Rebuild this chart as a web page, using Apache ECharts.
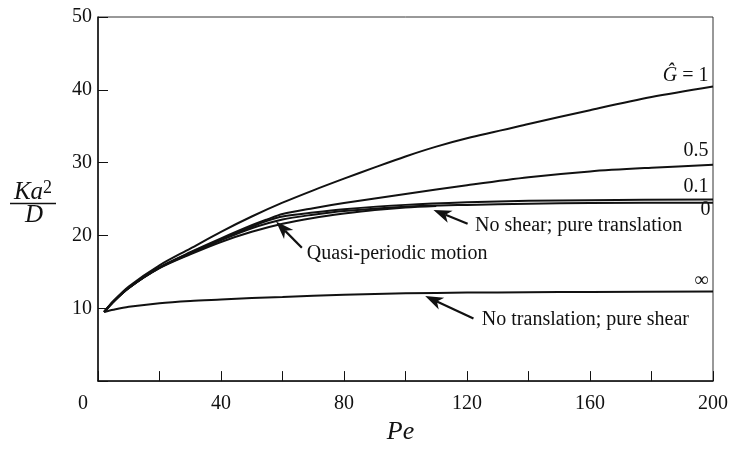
<!DOCTYPE html>
<html>
<head>
<meta charset="utf-8">
<script src="https://cdn.jsdelivr.net/npm/echarts@6/dist/echarts.min.js"></script>
<style>
  html, body { margin: 0; padding: 0; background: #fff; }
  #chart { width: 733px; height: 450px; }
</style>
</head>
<body>
<div id="chart"></div>
<script>
// Ka^2/D against Pe, one curve per shear ratio G
const curveG1 = [[2, 9.5], [5, 11.0], [10, 13.0], [20, 15.9], [30, 18.2], [40, 20.5], [50, 22.6], [60, 24.5], [70, 26.2], [80, 27.8], [90, 29.35], [100, 30.85], [110, 32.2], [120, 33.35], [140, 35.3], [160, 37.2], [180, 39.0], [200, 40.45]];
const curveG05 = [[2, 9.5], [5, 10.9], [10, 12.8], [20, 15.6], [30, 17.7], [40, 19.6], [50, 21.4], [55, 22.2], [60, 22.95], [70, 23.75], [80, 24.45], [100, 25.7], [120, 26.9], [140, 28.0], [160, 28.8], [180, 29.3], [200, 29.7]];
const curveG01 = [[2, 9.5], [5, 10.9], [10, 12.8], [20, 15.6], [30, 17.6], [40, 19.45], [50, 21.2], [55, 22.0], [60, 22.6], [70, 23.15], [80, 23.6], [100, 24.2], [120, 24.55], [140, 24.75], [160, 24.85], [200, 24.95]];
const curveG0 = [[2, 9.5], [5, 10.9], [10, 12.8], [20, 15.55], [30, 17.5], [40, 19.35], [50, 21.0], [60, 22.2], [70, 22.85], [80, 23.35], [100, 23.95], [120, 24.2], [140, 24.35], [160, 24.45], [200, 24.5]];
const curveQuasi = [[2, 9.5], [5, 10.9], [10, 12.8], [20, 15.5], [30, 17.4], [40, 19.1], [50, 20.5], [60, 21.6], [70, 22.4], [80, 23.0], [90, 23.5], [100, 23.85], [110, 24.05]];
const curveInf = [[2, 9.5], [5, 9.8], [10, 10.2], [20, 10.7], [30, 11.0], [40, 11.2], [50, 11.4], [60, 11.55], [80, 11.85], [100, 12.05], [120, 12.15], [140, 12.2], [160, 12.25], [200, 12.3]];

const curveNames = ['1', '0.5', '0.1', '0', 'quasi', '\u221e'];
const curveData = [curveG1, curveG05, curveG01, curveG0, curveQuasi, curveInf];

// text next to the right end of a curve: [curve index, text, dx, dy]
const endLabels = [
  [0, '{i|\u011c} = 1', -4.5, -11],
  [1, '0.5', -4.5, -14.5],
  [2, '0.1', -4.5, -13],
  [3, '0', -2.5, 7.5],
  [5, '\u221e', -4.5, -11]
];

// arrow notes: tip and tail in data units
const notes = [
  { text: 'No shear; pure translation', tip: [109.1, 23.5], tail: [120.2, 21.6], off: [7.5, 1.8] },
  { text: 'Quasi-periodic motion', tip: [57.9, 21.9], tail: [66.3, 18.3], off: [5, 6.3] },
  { text: 'No translation; pure shear', tip: [106.4, 11.7], tail: [122.1, 8.6], off: [8.4, 1] }
];

const serif = '"Liberation Serif", "Times New Roman", serif';
const ink = '#111';

let chart = echarts.init(document.getElementById('chart'));

let option = {
  animation: false,
  grid: { left: 98, right: 20, top: 17, bottom: 55, show: true, borderColor: '#333', borderWidth: 1 },
  xAxis: {
    type: 'value', min: 0, max: 200, interval: 20,
    name: 'Pe', nameLocation: 'middle', nameGap: 31,
    nameTextStyle: { fontFamily: serif, fontStyle: 'italic', fontSize: 26, color: ink, padding: [0, 10, 0, 0] },
    axisLine: { onZero: false, lineStyle: { color: ink, width: 1.5 } },
    axisTick: { inside: true, length: 10, lineStyle: { color: ink, width: 1 } },
    axisLabel: {
      interval: 0, margin: 13, fontFamily: serif, fontSize: 20, color: ink,
      formatter: function (v) { return v > 0 && v % 40 === 0 ? String(v) : ''; }
    },
    splitLine: { show: false }
  },
  yAxis: {
    type: 'value', min: 0, max: 50, interval: 10,
    axisLine: { onZero: false, lineStyle: { color: ink, width: 1.5 } },
    axisTick: { inside: true, length: 10, lineStyle: { color: ink, width: 1 } },
    axisLabel: {
      margin: 6, fontFamily: serif, fontSize: 20, color: ink,
      formatter: function (v) { return v > 0 ? String(v) : ''; }
    },
    splitLine: { show: false }
  },
  series: curveData.map(function (d, i) {
    return {
      name: curveNames[i], type: 'line', data: d,
      showSymbol: false, smooth: 0.3, silent: true,
      lineStyle: { color: ink, width: 2 }
    };
  })
};
chart.setOption(option);

function px(p) {
  return chart.convertToPixel({ gridIndex: 0 }, p);
}

let graphics = [];

endLabels.forEach(function (l) {
  const d = curveData[l[0]];
  const end = px(d[d.length - 1]);
  graphics.push({
    type: 'text', x: end[0] + l[2], y: end[1] + l[3],
    style: {
      text: l[1], fill: ink, fontFamily: serif, fontSize: 20,
      align: 'right', verticalAlign: 'middle',
      rich: { i: { fontFamily: serif, fontSize: 20, fontStyle: 'italic' } }
    }
  });
});

notes.forEach(function (n) {
  const a = px(n.tip), b = px(n.tail);
  const dx = a[0] - b[0], dy = a[1] - b[1];
  const len = Math.hypot(dx, dy);
  const ux = dx / len, uy = dy / len, nx = -uy, ny = ux;
  const L = 18, W = 6.5;
  const notch = [a[0] - ux * L * 0.72, a[1] - uy * L * 0.72];
  graphics.push({
    type: 'line', shape: { x1: b[0], y1: b[1], x2: notch[0], y2: notch[1] },
    style: { stroke: ink, lineWidth: 2.2 }
  });
  graphics.push({
    type: 'polygon',
    shape: { points: [a, [a[0] - ux * L + nx * W, a[1] - uy * L + ny * W], notch, [a[0] - ux * L - nx * W, a[1] - uy * L - ny * W]] },
    style: { fill: ink }
  });
  graphics.push({
    type: 'text', x: b[0] + n.off[0], y: b[1] + n.off[1],
    style: { text: n.text, fill: ink, fontFamily: serif, fontSize: 20, align: 'left', verticalAlign: 'middle' }
  });
});

// shared origin label
const origin = px([0, 0]);
graphics.push({
  type: 'text', x: origin[0] - 15, y: origin[1] + 23,
  style: { text: '0', fill: ink, fontFamily: serif, fontSize: 20, align: 'center', verticalAlign: 'middle' }
});

// y axis title Ka^2 / D
graphics.push({
  type: 'text', x: 33, y: 192,
  style: {
    text: '{k|Ka}{s|2}', fill: ink, align: 'center', verticalAlign: 'middle',
    rich: {
      k: { fontFamily: serif, fontSize: 25, fontStyle: 'italic', lineHeight: 26 },
      s: { fontFamily: serif, fontSize: 18, verticalAlign: 'top', lineHeight: 22 }
    }
  }
});
graphics.push({ type: 'line', shape: { x1: 10, y1: 203.5, x2: 56, y2: 203.5 }, style: { stroke: ink, lineWidth: 1.5 } });
graphics.push({ type: 'text', x: 34, y: 215, style: { text: 'D', fill: ink, fontFamily: serif, fontSize: 25, fontStyle: 'italic', align: 'center', verticalAlign: 'middle' } });

chart.setOption({ graphic: graphics });
</script>
</body>
</html>
